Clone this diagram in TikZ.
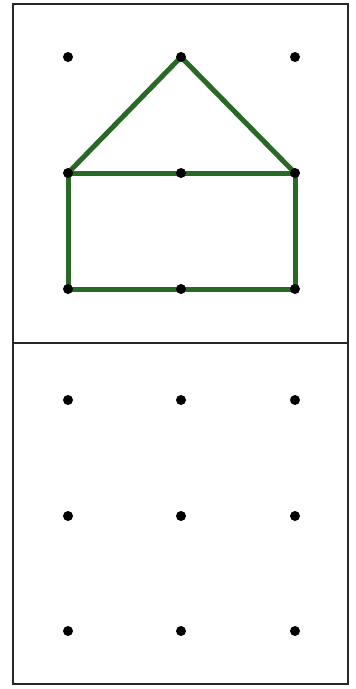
\documentclass[tikz,border=0pt]{standalone}
\usepackage{tikz}
\definecolor{housegreen}{RGB}{40,105,38}
\begin{document}
\begin{tikzpicture}[x=1pt,y=-1pt,
  frame/.style={draw=black!85,line width=2.8pt},
  edge/.style={draw=housegreen,line width=5pt,line cap=round,line join=round},
  dot/.style={circle,fill=black,inner sep=0pt,minimum size=10pt}]
\useasboundingbox (0,0) rectangle (356,689);
\fill[white] (0,0) rectangle (356,689);
\draw[frame] (13,4) rectangle (348,684);
\draw[frame] (13,343) -- (348,343);
% top grid coordinates
\foreach \c/\x in {a/68,b/181,c/295}{
  \foreach \r/\y in {1/57,2/173,3/289}{
    \coordinate (t\c\r) at (\x,\y);
  }
}
% house
\draw[edge] (ta2) -- (tb1) -- (tc2);
\draw[edge] (ta2) rectangle (tc3);
% top dots
\foreach \c in {a,b,c}{
  \foreach \r in {1,2,3}{
    \node[dot] (dt\c\r) at (t\c\r) {};
  }
}
% bottom dots
\foreach \c/\x in {a/68,b/181,c/295}{
  \foreach \r/\y in {1/400,2/516,3/631}{
    \node[dot] (db\c\r) at (\x,\y) {};
  }
}
\end{tikzpicture}
\end{document}
